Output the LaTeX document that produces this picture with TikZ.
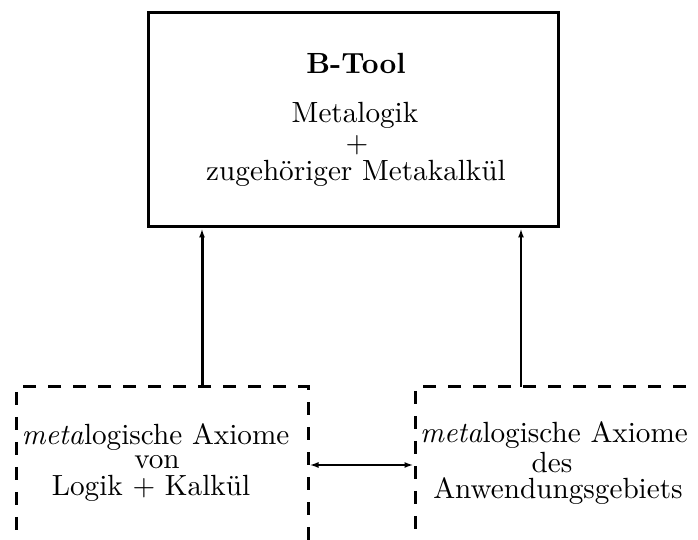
\documentclass[tikz,border=0pt]{standalone}
\usetikzlibrary{arrows.meta}
% ten-point design size of Latin Modern, enlarged
\newcommand\bigsmall[1]{\scalebox{1.46}{\fontsize{10}{12}\selectfont #1}}
\begin{document}
\begin{tikzpicture}[x=0.5pt,y=-0.5pt,
  txt/.style={anchor=base,inner sep=0pt},
  solidbox/.style={draw,line width=1.5pt,rectangle,inner sep=0pt},
  dashbox/.style={draw,line width=1.5pt,rectangle,inner sep=0pt,dash pattern=on 6.5pt off 6pt},
  uparrow/.style={-{Latex[length=4.5pt,width=3pt]}},
  link/.style={line width=1pt,{Latex[length=4.5pt,width=3pt]}-{Latex[length=4.5pt,width=3pt]}}]
\useasboundingbox (0,0) rectangle (698,540);
\clip (0,0) rectangle (698,540);

% upper box: the B-Tool
\node[solidbox,minimum width=205pt,minimum height=107pt] (btool) at (353,120) {};
\node[txt] (title) at (356,74) {\bigsmall{\bfseries B-Tool}};
\node[txt] (l1) at (355,123) {\bigsmall{Metalogik}};
\node[txt] (l2) at (357,153) {\bigsmall{$+$}};
\node[txt] (l3) at (356,181) {\bigsmall{zugeh\"origer Metakalk\"ul}};

% lower dashed boxes, running off the lower and right border
\node[dashbox,minimum width=146pt,minimum height=118pt] (lbox) at (162,505) {};
\node[dashbox,minimum width=190pt,minimum height=118pt] (rbox) at (605,505) {};

\node[txt] (a1) at (155.5,445) {\bigsmall{\textit{meta}logische Axiome}};
\node[txt] (a2) at (157,469) {\bigsmall{von}};
\node[txt] (a3) at (151,496) {\bigsmall{Logik $+$ Kalk\"ul}};

\node[txt] (b1) at (554,443) {\bigsmall{\textit{meta}logische Axiome}};
\node[txt] (b2) at (552,473) {\bigsmall{des}};
\node[txt] (b3) at (558,499) {\bigsmall{Anwendungsgebiets}};

% connectors
\coordinate (la) at (202,387);
\coordinate (ra) at (521,387);
\coordinate (mid) at (0,465);
\draw[uparrow,line width=1.5pt] (la) -- (la |- btool.south);
\draw[uparrow,line width=1pt] (ra) -- (ra |- btool.south);
\draw[link] (lbox.east |- mid) -- (rbox.west |- mid);
\end{tikzpicture}
\end{document}
